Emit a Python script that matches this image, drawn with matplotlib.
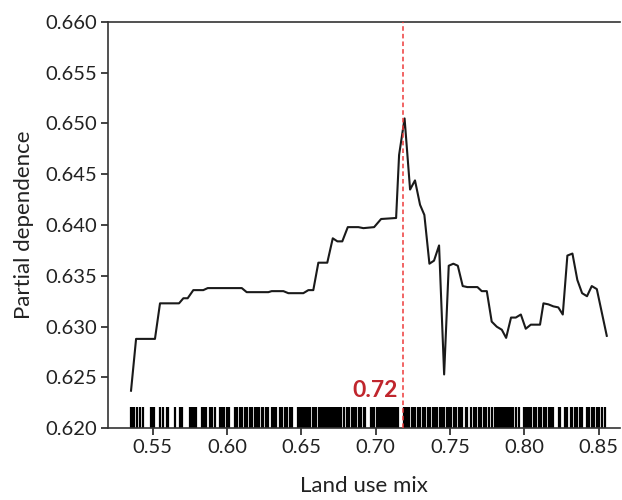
import matplotlib
matplotlib.use("Agg")
import matplotlib.pyplot as plt

plt.rcParams['font.family'] = ['Lato', 'DejaVu Sans']

# Partial dependence curve
pd_x = [0.5354, 0.5388, 0.5515, 0.5549, 0.5677, 0.5706, 0.5735, 0.5773, 0.5840,
        0.5870, 0.6099, 0.6132, 0.6278, 0.6300, 0.6379, 0.6412, 0.6513, 0.6547,
        0.6580, 0.6614, 0.6674, 0.6711, 0.6742, 0.6775, 0.6812, 0.6883, 0.6917,
        0.6989, 0.7036, 0.7137, 0.7157, 0.7194, 0.7231, 0.7264, 0.7298, 0.7327,
        0.7361, 0.7392, 0.7426, 0.7460, 0.7491, 0.7522, 0.7552, 0.7585, 0.7616,
        0.7684, 0.7713, 0.7747, 0.7780, 0.7814, 0.7848, 0.7877, 0.7910, 0.7942,
        0.7976, 0.8009, 0.8043, 0.8105, 0.8128, 0.8161, 0.8195, 0.8228, 0.8258,
        0.8289, 0.8323, 0.8356, 0.8388, 0.8421, 0.8453, 0.8487, 0.8554]
pd_y = [0.6237, 0.6288, 0.6288, 0.6323, 0.6323, 0.6328, 0.6328, 0.6336, 0.6336,
        0.6338, 0.6338, 0.6334, 0.6334, 0.6335, 0.6335, 0.6333, 0.6333, 0.6336,
        0.6336, 0.6363, 0.6363, 0.6387, 0.6384, 0.6384, 0.6398, 0.6398, 0.6397,
        0.6398, 0.6406, 0.6407, 0.6469, 0.6505, 0.6435, 0.6444, 0.6420, 0.6410,
        0.6362, 0.6365, 0.6380, 0.6253, 0.6360, 0.6362, 0.6360, 0.6340, 0.6339,
        0.6339, 0.6335, 0.6335, 0.6305, 0.6300, 0.6297, 0.6289, 0.6309, 0.6309,
        0.6312, 0.6298, 0.6302, 0.6302, 0.6323, 0.6322, 0.6320, 0.6319, 0.6312,
        0.6370, 0.6372, 0.6346, 0.6333, 0.6330, 0.6340, 0.6337, 0.6291]

# Rug of observed land use mix values
rug_x = [0.5356, 0.5363, 0.5370, 0.5377, 0.5393, 0.5416, 0.5432, 0.5490, 0.5497,
         0.5503, 0.5510, 0.5552, 0.5572, 0.5595, 0.5605, 0.5648, 0.5685, 0.5698,
         0.5752, 0.5760, 0.5768, 0.5776, 0.5785, 0.5793, 0.5830, 0.5845, 0.5857,
         0.5888, 0.5900, 0.5920, 0.5950, 0.5960, 0.5970, 0.5980, 0.5998, 0.6010,
         0.6055, 0.6065, 0.6088, 0.6100, 0.6120, 0.6132, 0.6153, 0.6165, 0.6188,
         0.6200, 0.6215, 0.6232, 0.6245, 0.6265, 0.6278, 0.6300, 0.6315, 0.6330,
         0.6355, 0.6368, 0.6390, 0.6402, 0.6425, 0.6438, 0.6480, 0.6490, 0.6502,
         0.6512, 0.6522, 0.6535, 0.6545, 0.6560, 0.6575, 0.6588, 0.6600, 0.6618,
         0.6630, 0.6640, 0.6650, 0.6660, 0.6670, 0.6680, 0.6690, 0.6700, 0.6710,
         0.6718, 0.6726, 0.6734, 0.6742, 0.6750, 0.6758, 0.6766, 0.6785, 0.6805,
         0.6820, 0.6840, 0.6852, 0.6865, 0.6885, 0.6898, 0.6918, 0.6930, 0.6965,
         0.6978, 0.6990, 0.7010, 0.7020, 0.7030, 0.7040, 0.7050, 0.7065, 0.7075,
         0.7087, 0.7100, 0.7110, 0.7120, 0.7130, 0.7140, 0.7150, 0.7190, 0.7200,
         0.7210, 0.7225, 0.7242, 0.7255, 0.7266, 0.7285, 0.7295, 0.7315, 0.7328,
         0.7350, 0.7362, 0.7385, 0.7397, 0.7410, 0.7430, 0.7440, 0.7450, 0.7460,
         0.7480, 0.7492, 0.7505, 0.7528, 0.7540, 0.7560, 0.7570, 0.7580, 0.7605,
         0.7615, 0.7638, 0.7660, 0.7672, 0.7695, 0.7707, 0.7730, 0.7742, 0.7762,
         0.7785, 0.7805, 0.7815, 0.7825, 0.7835, 0.7845, 0.7855, 0.7865, 0.7875,
         0.7885, 0.7895, 0.7905, 0.7915, 0.7925, 0.7945, 0.7965, 0.7995, 0.8005,
         0.8015, 0.8025, 0.8035, 0.8045, 0.8065, 0.8077, 0.8098, 0.8110, 0.8130,
         0.8142, 0.8165, 0.8177, 0.8195, 0.8230, 0.8242, 0.8275, 0.8287, 0.8310,
         0.8322, 0.8343, 0.8355, 0.8377, 0.8390, 0.8420, 0.8432, 0.8455, 0.8467,
         0.8490, 0.8502, 0.8525, 0.8540]

threshold = 0.718
threshold_label = "0.72"
x_ticks = [0.55, 0.60, 0.65, 0.70, 0.75, 0.80, 0.85]
y_ticks = [0.620, 0.625, 0.630, 0.635, 0.640, 0.645, 0.650, 0.655, 0.660]

fig = plt.figure(figsize=(6.22, 5.0), dpi=100)
ax = fig.add_axes([0.1736, 0.1434, 0.8232, 0.8128])

ax.plot(pd_x, pd_y, color='#1a1a1a', lw=1.5, zorder=3)
ax.vlines(rug_x, 0.6200, 0.6221, color='black', lw=1.6, zorder=2)
ax.axvline(threshold, color='#ee3b3b', lw=1.1, ls=(0, (3, 2)), zorder=4)
ax.text(threshold - 0.0030, 0.62305, threshold_label, color='#c0262d',
        fontsize=16.5, fontweight='bold', ha='right', va='baseline')

ax.set_xlim(0.5199, 0.8643)
ax.set_ylim(0.620, 0.660)
ax.set_xticks(x_ticks)
ax.set_xticklabels([f"{v:.2f}" for v in x_ticks])
ax.set_yticks(y_ticks)
ax.set_yticklabels([f"{v:.3f}" for v in y_ticks])

for s in ['left', 'bottom', 'top']:
    ax.spines[s].set_color('#333333')
    ax.spines[s].set_linewidth(1.2)
ax.spines['right'].set_visible(False)
ax.tick_params(axis='both', labelsize=14.5, colors='#222222', length=5,
               width=1.2, direction='out', pad=3)

ax.set_xlabel("Land use mix", fontsize=16, color='#222222', labelpad=14)
ax.set_ylabel("Partial dependence", fontsize=16, color='#222222', labelpad=8)

fig.savefig("out.png", dpi=100)
